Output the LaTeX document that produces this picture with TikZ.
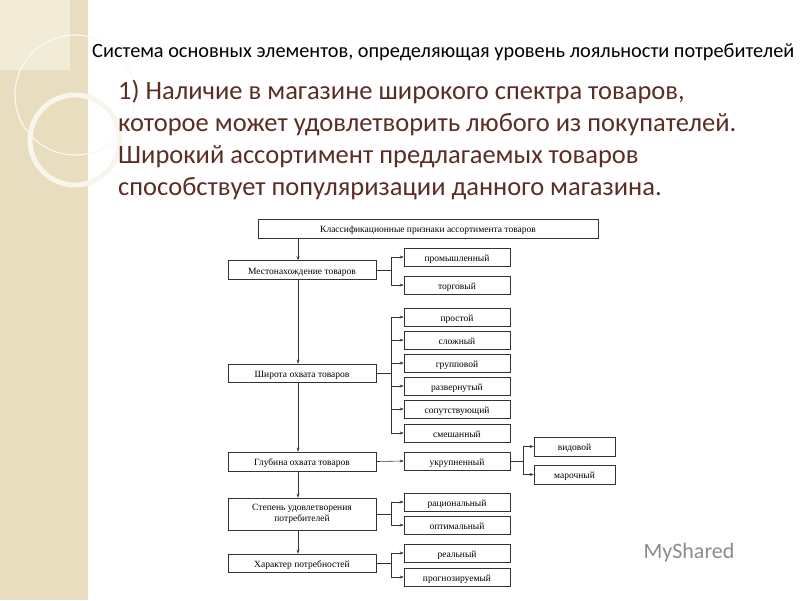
\documentclass[tikz,border=0pt]{standalone}
\usepackage{fontspec}
\setmainfont{Carlito}
\newfontfamily\diag{Liberation Serif}
\usetikzlibrary{arrows.meta}
\definecolor{beige}{HTML}{E8DDBE}
\definecolor{heading}{HTML}{5A2E25}
\begin{document}
\begin{tikzpicture}[x=1pt,y=-1pt,
  bx/.style={draw=black!80,line width=0.6pt,fill=white,inner sep=0pt,font=\diag\fontsize{9.5}{10.5}\selectfont,align=center,text height=8.5pt,text depth=0pt},
  arr/.style={-{Stealth[length=4pt,width=3pt]},line width=0.6pt,black!80},
  ln/.style={line width=0.6pt,black!80}]
\useasboundingbox (0,0) rectangle (800,600);
\fill[white] (0,0) rectangle (800,600);
\fill[beige] (0,0) rectangle (88,600);
\fill[beige!60] (0,0) rectangle (70,70);
\draw[white!80!beige,line width=1.2pt] (75,95) circle (60);
\draw[white!70!beige,line width=5pt] (75,140) circle (45);
\node[anchor=west,font=\fontsize{20.3}{22}\selectfont,inner sep=0pt] (t) at (92,52) {Система основных элементов, определяющая уровень лояльности потребителей};
\node[anchor=north west,align=left,text=heading,font=\fontsize{26.5}{32}\selectfont,inner sep=0pt] (h) at (118,80)
 {1) Наличие в магазине широкого спектра товаров,\\которое может удовлетворить любого из покупателей.\\Широкий ассортимент предлагаемых товаров\\способствует популяризации данного магазина.};
% boxes
\node[bx,minimum width=340,minimum height=19] (top) at (428,228.5) {Классификационные признаки ассортимента товаров};
\foreach \n/\y/\h/\t in {L1/270/19/Местонахождение товаров, L2/373/18/Широта охвата товаров, L3/461.5/19/Глубина охвата товаров, L5/563/18/Характер потребностей}
  \node[bx,minimum width=148,minimum height=\h] (\n) at (302,\y) {\t};
\node[bx,minimum width=148,minimum height=32,text height=,text depth=] (L4) at (302,514) {Степень удовлетворения\\потребителей};
\foreach \n/\y/\t in {a/257/промышленный,b/285/торговый,c/317/простой,d/340/сложный,e/363/групповой,f/386/развернутый,g/409/сопутствующий,h/433/смешанный,i/461/укрупненный,j/502/рациональный,k/525/оптимальный,l/553/реальный,m/577/прогнозируемый}
  \node[bx,minimum width=106,minimum height=18] (\n) at (457,\y) {\t};
\node[bx,minimum width=81,minimum height=19] (v) at (574.5,446.5) {видовой};
\node[bx,minimum width=81,minimum height=19] (w) at (574.5,474.5) {марочный};
% main vertical
\coordinate (mx) at (298,0);
\draw[arr] (top.south -| mx) -- (L1.north -| mx);
\draw[arr] (L1.south -| mx) -- (L2.north -| mx);
\draw[arr] (L2.south -| mx) -- (L3.north -| mx);
\draw[arr] (L3.south -| mx) -- (L4.north -| mx);
\draw[arr] (L4.south -| mx) -- (L5.north -| mx);
% branches
\coordinate (bx) at (391,0);
\draw[ln] (L1.east) -- (L1.east -| bx);
\draw[ln] (a.west -| bx) -- (b.west -| bx);
\foreach \n in {a,b} \draw[arr] (\n.west -| bx) -- (\n.west);
\draw[ln] (L2.east) -- (L2.east -| bx);
\draw[ln] (c.west -| bx) -- (h.west -| bx);
\foreach \n in {c,d,e,f,g,h} \draw[arr] (\n.west -| bx) -- (\n.west);
\draw[arr] (L3.east) -- (i.west);
\draw[ln] (L4.east) -- (L4.east -| bx);
\draw[ln] (j.west -| bx) -- (k.west -| bx);
\foreach \n in {j,k} \draw[arr] (\n.west -| bx) -- (\n.west);
\draw[ln] (L5.east) -- (L5.east -| bx);
\draw[ln] (l.west -| bx) -- (m.west -| bx);
\foreach \n in {l,m} \draw[arr] (\n.west -| bx) -- (\n.west);
\coordinate (cx) at (523,0);
\draw[ln] (i.east) -- (i.east -| cx);
\draw[ln] (v.west -| cx) -- (w.west -| cx);
\foreach \n in {v,w} \draw[arr] (\n.west -| cx) -- (\n.west);
\node[anchor=west,text=black!45,font=\fontsize{22}{24}\selectfont] (ms) at (640,553) {MyShared};
\end{tikzpicture}
\end{document}
